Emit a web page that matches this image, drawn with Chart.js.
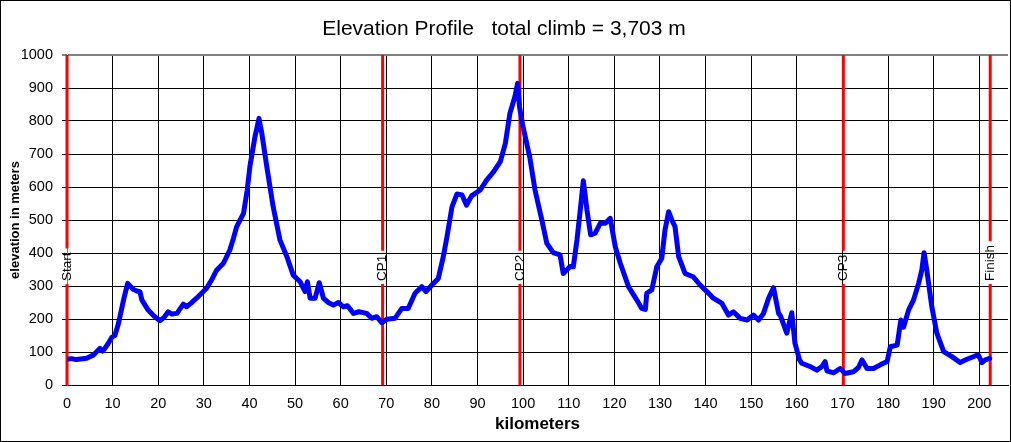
<!DOCTYPE html>
<html>
<head>
<meta charset="utf-8">
<script src="https://cdn.jsdelivr.net/npm/chart.js@4.4.0/dist/chart.umd.min.js"></script>
<style>
  html, body { margin: 0; padding: 0; background: #fff; }
  #wrap { width: 1011px; height: 442px; position: relative; }
</style>
</head>
<body>
<div id="wrap"><canvas id="profile"></canvas></div>
<script>
// distance along the route (km) and elevation (m)
const kilometers = [
  0, 1, 2, 3, 4.3, 5.8, 7.2, 7.8, 8.3, 9.0, 9.8, 10.5, 11.3, 12.4, 13.3, 14.5, 15.3, 16.0, 16.4, 17.8,
  19.0, 20.4, 21.3, 22.2, 23.0, 24.1, 25.5, 26.2, 27.2, 28.4, 30.6, 31.7, 32.8, 34.3, 35.7, 36.5, 37.2, 38.7, 39.5, 40.1,
  41.2, 42.1, 42.7, 43.8, 45.2, 46.7, 48.2, 49.6, 51.1, 52.2, 52.7, 53.3, 54.4, 55.3, 55.9, 56.2, 57.3, 58.4, 59.5, 60.6,
  61.5, 62.8, 64.0, 65.7, 66.8, 67.9, 69.0, 70.1, 71.9, 73.4, 74.8, 76.3, 77.8, 78.7, 80.0, 81.4, 82.5, 83.3, 84.4, 85.5,
  86.6, 87.6, 88.7, 90.6, 92.0, 93.5, 95.0, 96.1, 97.1, 98.2, 98.8, 99.2, 99.9, 101.5, 102.6, 104.1, 105.2, 106.6, 108.1, 108.8,
  110.3, 111.0, 111.8, 112.6, 113.2, 114.0, 114.8, 115.8, 116.9, 118.0, 119.1, 120.2, 121.3, 123.1, 124.9, 126.0, 126.8, 127.1, 128.2, 129.3,
  130.4, 131.1, 131.9, 132.6, 133.3, 134.1, 135.5, 137.3, 138.8, 140.3, 141.7, 143.6, 145.0, 146.1, 147.6, 149.1, 150.5, 151.6, 152.7, 153.8,
  154.9, 156.0, 156.4, 157.8, 158.9, 159.6, 160.6, 161.1, 162.9, 164.4, 165.5, 166.2, 166.6, 168.1, 169.5, 170.6, 172.4, 173.5, 174.3, 175.4,
  176.8, 178.3, 179.8, 180.5, 182.0, 182.8, 183.4, 184.5, 185.6, 186.7, 187.4, 187.9, 188.5, 189.6, 190.7, 192.2, 194.0, 195.8, 197.3, 199.1,
  199.8, 200.6, 201.3, 202.3
];
const elevations = [
  78, 80, 77, 79, 81, 91, 111, 103, 111, 125, 144, 150, 187, 258, 308, 290, 285, 283, 258, 227,
  210, 195, 205, 222, 215, 217, 245, 237, 248, 263, 293, 318, 348, 369, 409, 445, 480, 520, 590, 662,
  752, 808, 763, 662, 540, 439, 389, 333, 313, 283, 313, 263, 263, 310, 280, 263, 250, 242, 250, 237,
  240, 217, 222, 217, 202, 207, 189, 199, 202, 232, 232, 278, 298, 283, 303, 323, 389, 449, 540, 579,
  576, 545, 573, 591, 621, 646, 677, 732, 823, 874, 914, 843, 788, 687, 591, 500, 429, 401, 394, 338,
  359, 358, 439, 540, 619, 530, 455, 460, 490, 490, 505, 419, 369, 298, 258, 232, 229, 278, 288, 358,
  384, 470, 525, 500, 480, 389, 338, 328, 303, 283, 263, 247, 212, 222, 202, 197, 212, 197, 217, 263,
  295, 217, 210, 157, 219, 126, 76, 66, 56, 45, 56, 71, 43, 37, 50, 35, 40, 53, 76, 50,
  50, 61, 71, 116, 121, 197, 175, 227, 258, 308, 348, 401, 348, 237, 157, 101, 86, 68, 78, 88,
  91, 68, 76, 81
];

const xTicks = [0, 10, 20, 30, 40, 50, 60, 70, 80, 90, 100, 110, 120, 130, 140, 150, 160, 170, 180, 190, 200];
const yTicks = [0, 100, 200, 300, 400, 500, 600, 700, 800, 900, 1000];

const checkpointKm = [0, 69.2, 99.3, 170.2, 202.4];
const checkpointNames = ['Start', 'CP1', 'CP2', 'CP3', 'Finish'];

const FONT = 'Arial, "Liberation Sans", sans-serif';
Chart.defaults.font.family = FONT;
Chart.defaults.color = '#000';

// red vertical lines with a rotated label in a gap
const checkpointLines = {
  id: 'checkpointLines',
  beforeDatasetsDraw(chart) {
    const { ctx, chartArea, scales: { x, y } } = chart;
    const labelBottom = y.getPixelForValue(315);
    ctx.save();
    ctx.font = '13.5px ' + FONT;
    ctx.strokeStyle = '#ff0000';
    ctx.lineWidth = 3;
    checkpointKm.forEach((km, i) => {
      const px = x.getPixelForValue(km);
      const w = ctx.measureText(checkpointNames[i]).width;
      ctx.beginPath();
      ctx.moveTo(px, chartArea.bottom);
      ctx.lineTo(px, labelBottom + 3);
      ctx.moveTo(px, labelBottom - w - 4);
      ctx.lineTo(px, chartArea.top);
      ctx.stroke();

      ctx.save();
      ctx.translate(px, labelBottom);
      ctx.rotate(-Math.PI / 2);
      ctx.fillStyle = '#000';
      ctx.textAlign = 'left';
      ctx.textBaseline = 'middle';
      ctx.fillText(checkpointNames[i], 0, 0);
      ctx.restore();
    });
    ctx.restore();
  }
};

// thin black frame round the whole picture
const outerFrame = {
  id: 'outerFrame',
  afterDraw(chart) {
    const { ctx, width, height } = chart;
    ctx.save();
    ctx.strokeStyle = '#000';
    ctx.lineWidth = 1;
    ctx.strokeRect(0.5, 0.5, width - 1, height - 1);
    ctx.restore();
  }
};

new Chart(document.getElementById('profile'), {
  type: 'line',
  data: {
    datasets: [{
      data: kilometers.map((km, i) => ({ x: km, y: elevations[i] })),
      borderColor: '#0000ff',
      borderWidth: 5,
      pointRadius: 0,
      tension: 0,
      borderJoinStyle: 'round',
      borderCapStyle: 'round'
    }]
  },
  options: {
    responsive: true,
    maintainAspectRatio: false,
    animation: false,
    devicePixelRatio: 1,
    layout: { padding: { left: 0, right: 3, top: 0, bottom: 0 } },
    plugins: {
      legend: { display: false },
      tooltip: { enabled: false },
      title: {
        display: true,
        text: 'Elevation Profile   total climb = 3,703 m',
        color: '#000',
        font: { size: 21, weight: 'normal' },
        padding: { top: 16.5, bottom: 13.3 }
      }
    },
    scales: {
      x: {
        type: 'linear',
        min: 0,
        max: 206.3,
        afterBuildTicks: (scale) => { scale.ticks = xTicks.map(v => ({ value: v })); },
        afterFit: (scale) => { scale.height = 57; },
        ticks: {
          padding: 10,
          maxRotation: 0,
          font: { size: 14.5 },
          callback: (v) => String(v)
        },
        grid: { color: '#000', lineWidth: 1, drawTicks: false },
        border: { display: true, color: '#000', width: 1 },
        title: {
          display: true,
          text: 'kilometers',
          font: { size: 17, weight: 'bold' },
          padding: { top: 0, bottom: 7 }
        }
      },
      y: {
        min: 0,
        max: 1000,
        afterBuildTicks: (scale) => { scale.ticks = yTicks.map(v => ({ value: v })); },
        afterFit: (scale) => { scale.width = 67; },
        ticks: {
          padding: 9,
          font: { size: 14.5 },
          callback: (v) => String(v)
        },
        grid: {
          color: (c) => (c.tick && c.tick.value === 1000 ? '#808080' : '#000'),
          lineWidth: (c) => (c.tick && c.tick.value === 1000 ? 2 : 1),
          tickLength: 5
        },
        border: { display: true, color: '#808080', width: 1 },
        title: {
          display: true,
          text: 'elevation in meters',
          font: { size: 13, weight: 'bold' },
          padding: { top: 7.5, bottom: 0 }
        }
      }
    }
  },
  plugins: [checkpointLines, outerFrame]
});
</script>
</body>
</html>
